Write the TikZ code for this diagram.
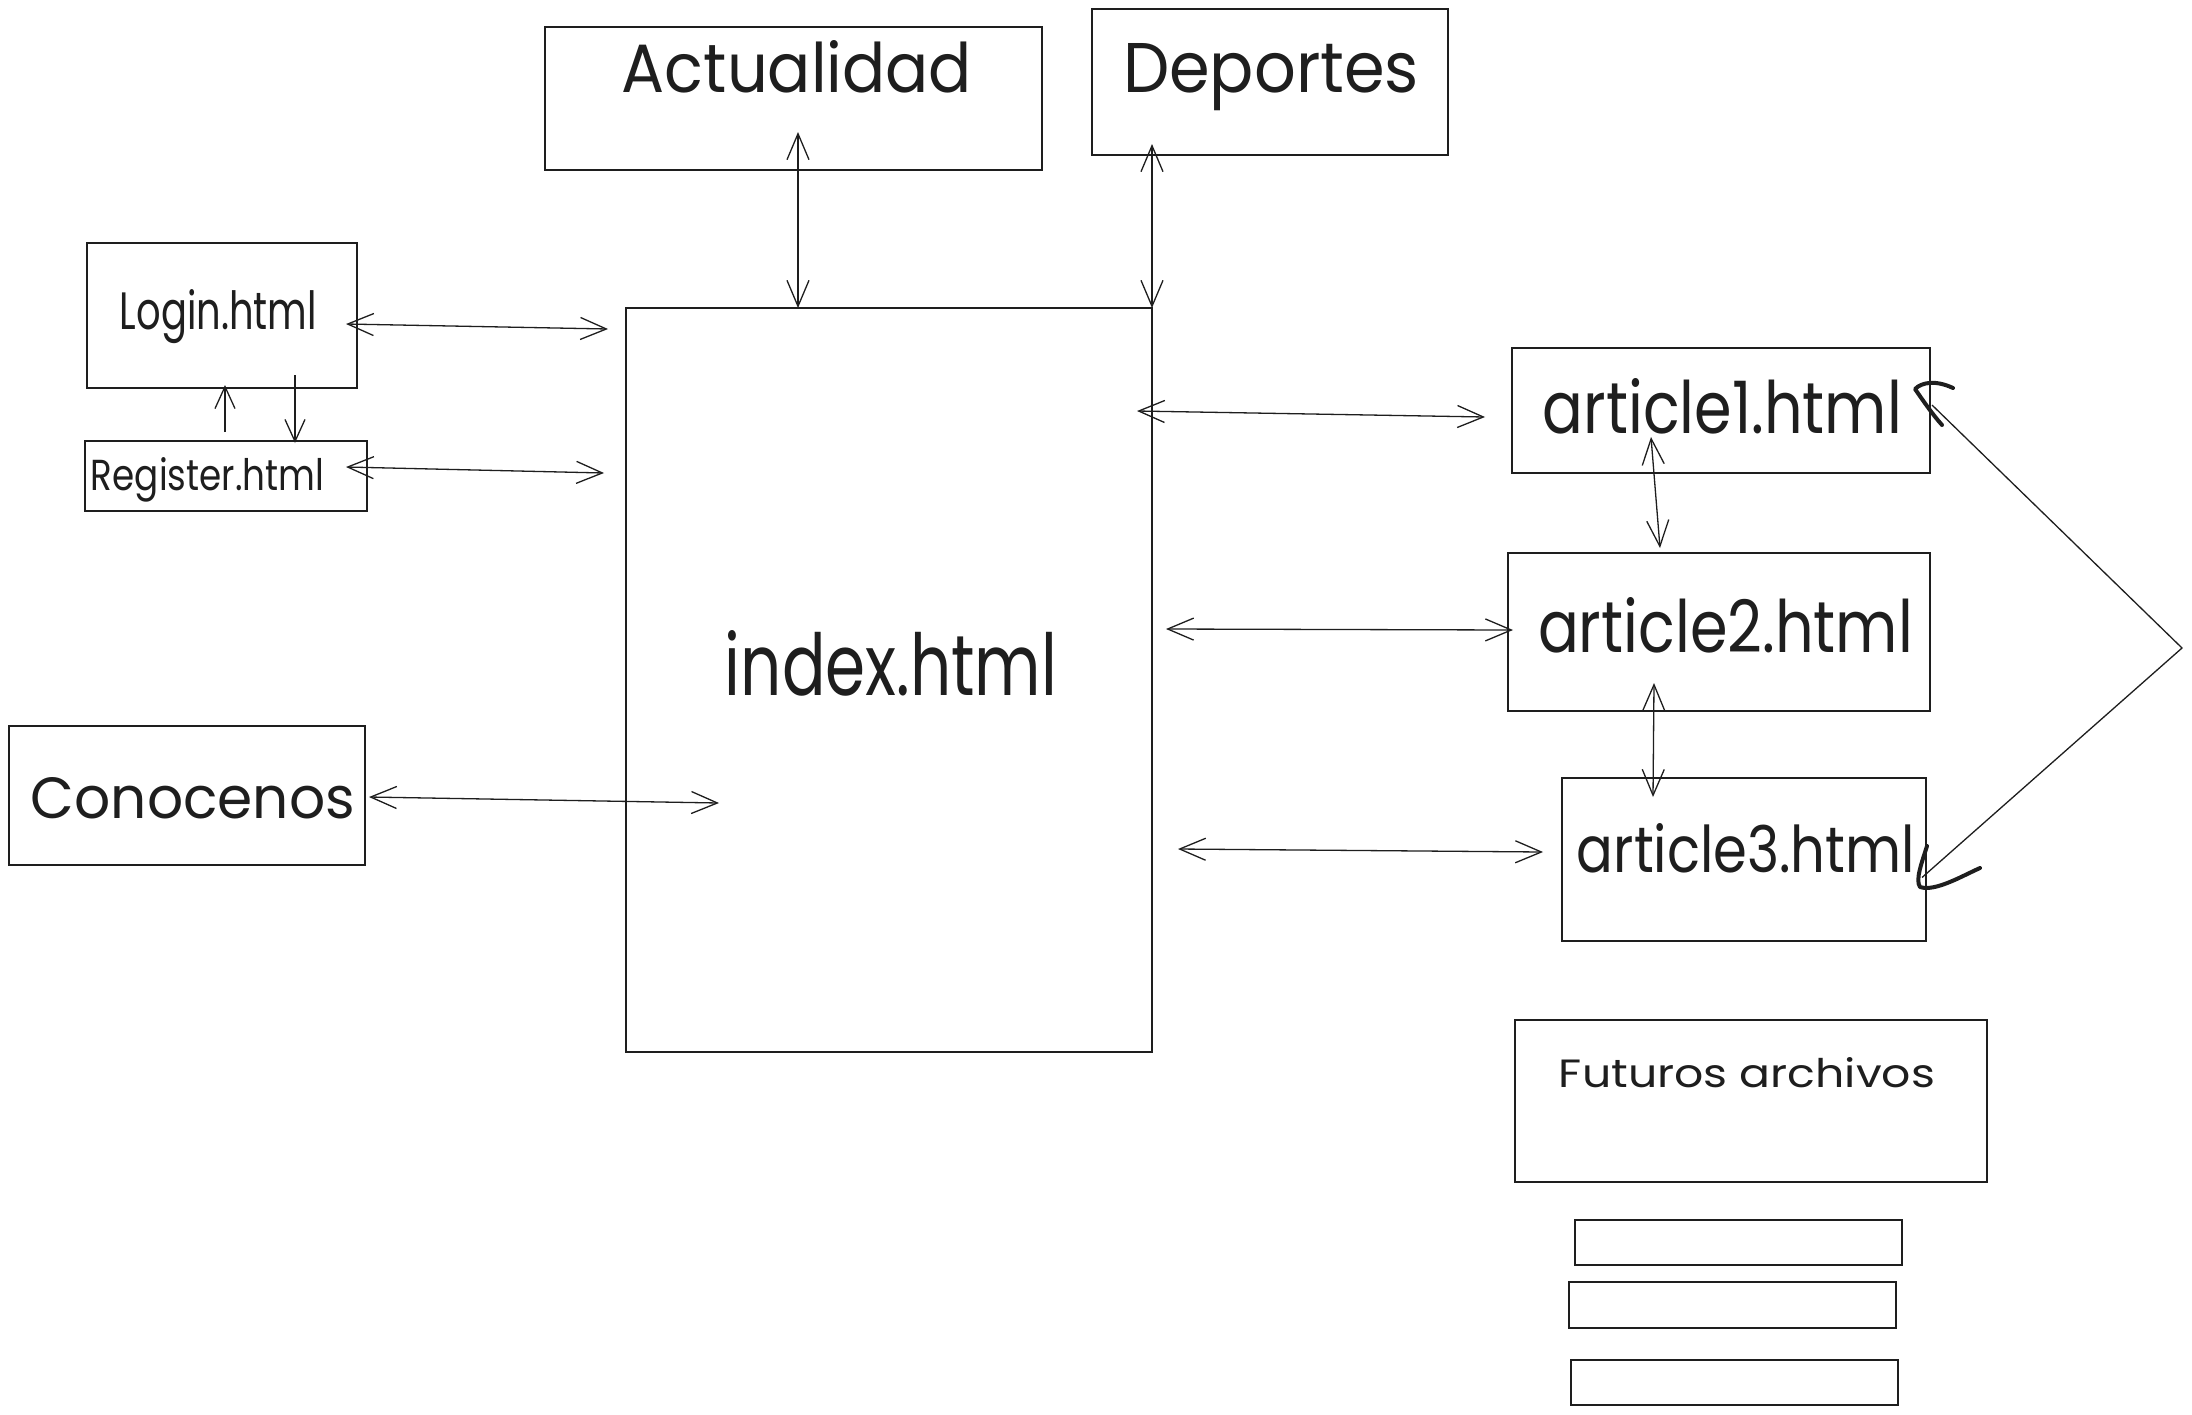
\documentclass[tikz,border=0pt]{standalone}
\usepackage{fontspec}
\setmainfont{Poppins}
\usepackage{graphicx}
\usetikzlibrary{arrows.meta}
\definecolor{ink}{HTML}{1E1E1E}
\newcommand\fittext[3]{\resizebox{#1pt}{#2pt}{#3}}
\begin{document}
\begin{tikzpicture}[x=1pt,y=-1pt,
  pagebox/.style={draw=ink, line width=1.6pt, rectangle, inner sep=0pt, outer sep=0pt},
  txt/.style={anchor=base, inner sep=0pt, text=ink},
  link/.style={draw=ink, line width=1.3pt, {Straight Barb[length=26pt,width=22pt]}-{Straight Barb[length=26pt,width=22pt]}},
  oneway/.style={draw=ink, line width=1.3pt, -{Straight Barb[length=22pt,width=20pt]}},
  plainline/.style={draw=ink, line width=1.3pt},
  penstroke/.style={draw=ink, line width=4pt, line cap=round, line join=round}]
\fill[white] (0,0) rectangle (2192,1414);
\useasboundingbox (0,0) rectangle (2192,1414);

% boxes
\node[pagebox, minimum width=497pt, minimum height=143pt] (actualidad) at (793.5,98.5) {};
\node[pagebox, minimum width=356pt, minimum height=146pt] (deportes) at (1270,82) {};
\node[pagebox, minimum width=270pt, minimum height=145pt] (login) at (222,315.5) {};
\node[pagebox, minimum width=282pt, minimum height=70pt] (register) at (226,476) {};
\node[pagebox, minimum width=526pt, minimum height=744pt] (index) at (889,680) {};
\node[pagebox, minimum width=356pt, minimum height=139pt] (conocenos) at (187,795.5) {};
\node[pagebox, minimum width=418pt, minimum height=125pt] (article1) at (1721,410.5) {};
\node[pagebox, minimum width=422pt, minimum height=158pt] (article2) at (1719,632) {};
\node[pagebox, minimum width=364pt, minimum height=163pt] (article3) at (1744,859.5) {};
\node[pagebox, minimum width=472pt, minimum height=162pt] (futuros) at (1751,1101) {};
\node[pagebox, minimum width=327pt, minimum height=45pt] (empty1) at (1738.5,1242.5) {};
\node[pagebox, minimum width=327pt, minimum height=46pt] (empty2) at (1732.5,1305) {};
\node[pagebox, minimum width=327pt, minimum height=45pt] (empty3) at (1734.5,1382.5) {};

% texts
\node[txt] (t-actualidad) at (797,92) {\fittext{350}{52}{Actualidad}};
\node[txt] (t-deportes) at (1271,92) {\fittext{296}{49}{Deportes}};
\node[txt] (t-login) at (218.5,329) {\fittext{197}{40}{Login.html}};
\node[txt] (t-register) at (207.5,490) {\fittext{233}{33}{Register.html}};
\node[txt] (t-index) at (891,695) {\fittext{332}{65}{index.html}};
\node[txt] (t-conocenos) at (193,818) {\fittext{324}{41}{Conocenos}};
\node[txt] (t-article1) at (1722.5,433) {\fittext{359}{55}{article1.html}};
\node[txt] (t-article2) at (1725.5,652) {\fittext{375}{55}{article2.html}};
\node[txt] (t-article3) at (1746,872) {\fittext{338}{49}{article3.html}};
\node[txt] (t-futuros) at (1747,1087) {\fittext{376}{30}{Futuros archivos}};

% connectors
\draw[link] ([shift={(-11,8.5)}]login.east) -- ([shift={(-18,21)}]index.north west);
\draw[link] ([shift={(-21,-9)}]register.east) -- ([shift={(-22,165)}]index.north west);
\draw[link] ([shift={(4,1.5)}]conocenos.east) -- ([shift={(93,123)}]index.west);
\draw[link] ([shift={(4.5,-38)}]actualidad.south) -- ([shift={(-91,0)}]index.north);
\draw[link] ([shift={(60,-11)}]deportes.south west) -- (index.north east);
\draw[link] ([shift={(-15,103)}]index.north east) -- ([shift={(-27,6.5)}]article1.west);
\draw[link] ([shift={(14,-51)}]index.east) -- ([shift={(5,-2)}]article2.west);
\draw[link] ([shift={(26,169)}]index.east) -- ([shift={(-19,-7.5)}]article3.west);
\draw[link] ([shift={(-70,-36)}]article1.south) -- ([shift={(-59,-5)}]article2.north);
\draw[link] ([shift={(-65,-28)}]article2.south) -- ([shift={(-91,19)}]article3.north);
\draw[oneway] ([shift={(-1,-9)}]register.north) -- ([shift={(3,-3)}]login.south);
\draw[oneway] ([shift={(73,-13)}]login.south) -- ([shift={(69,2)}]register.north);

\coordinate (apex) at (2182,648);
\draw[plainline] ([shift={(2,-5.5)}]article1.east) -- (apex) -- ([shift={(-4,18)}]article3.east);

% hand-drawn strokes
\draw[penstroke] (1953,388) .. controls (1936,380) and (1922,382) .. (1915,389) .. controls (1924,402) and (1933,415) .. (1942,425);
\draw[penstroke] (1927,846) .. controls (1922,862) and (1915,880) .. (1920,887) .. controls (1935,892) and (1962,876) .. (1980,868);
\end{tikzpicture}
\end{document}
